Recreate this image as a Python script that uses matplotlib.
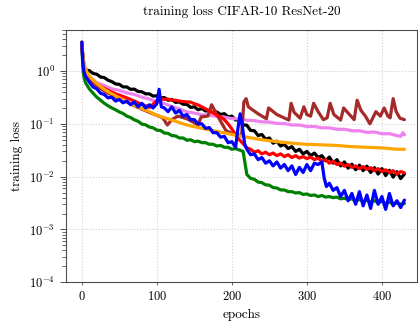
import matplotlib
matplotlib.use("Agg")
import matplotlib.pyplot as plt
from matplotlib.ticker import LogLocator, NullFormatter

plt.rcParams['font.family'] = 'serif'
plt.rcParams['font.serif'] = ['cmr10', 'DejaVu Serif']
plt.rcParams['mathtext.fontset'] = 'cm'
plt.rcParams['axes.formatter.use_mathtext'] = True

# ---------------- data ----------------
grid5 = [0, 1, 2, 3] + list(range(5, 431, 5))

black_loss = [3.5, 2.3, 1.6, 1.25, 1.05, 1.02, 0.9, 0.87, 0.77, 0.75,
              0.67, 0.63, 0.57, 0.56, 0.5, 0.5, 0.45, 0.455, 0.41, 0.405,
              0.37, 0.37, 0.335, 0.34, 0.31, 0.315, 0.28, 0.29, 0.255, 0.26,
              0.235, 0.235, 0.205, 0.21, 0.185, 0.195, 0.175, 0.18, 0.16, 0.168,
              0.15, 0.156, 0.135, 0.14, 0.118, 0.12, 0.096, 0.094, 0.075, 0.074,
              0.06, 0.063, 0.051, 0.054, 0.043, 0.047, 0.038, 0.041, 0.034, 0.037,
              0.03, 0.033, 0.027, 0.03, 0.025, 0.028, 0.023, 0.025, 0.02, 0.0235,
              0.018, 0.021, 0.016, 0.019, 0.0145, 0.0172, 0.0135, 0.0165, 0.013, 0.0158,
              0.012, 0.0148, 0.0112, 0.0142, 0.0105, 0.0132, 0.0098, 0.0124, 0.0092, 0.0112]

red_loss = [3.5, 2.0, 1.4, 1.15, 0.95, 0.78, 0.66, 0.57, 0.51, 0.47,
            0.43, 0.4, 0.37, 0.35, 0.33, 0.31, 0.29, 0.27, 0.25, 0.235,
            0.22, 0.205, 0.235, 0.275, 0.3, 0.29, 0.295, 0.28, 0.28, 0.27,
            0.265, 0.26, 0.258, 0.24, 0.228, 0.21, 0.192, 0.175, 0.162, 0.145,
            0.135, 0.12, 0.1, 0.08, 0.062, 0.05, 0.042, 0.035, 0.033, 0.029,
            0.031, 0.027, 0.029, 0.026, 0.028, 0.025, 0.027, 0.024, 0.026, 0.023,
            0.025, 0.0225, 0.024, 0.022, 0.0235, 0.021, 0.0225, 0.0195, 0.021, 0.018,
            0.0195, 0.017, 0.018, 0.0158, 0.017, 0.015, 0.016, 0.0142, 0.0155, 0.0138,
            0.0148, 0.013, 0.0142, 0.0125, 0.0135, 0.012, 0.013, 0.0112, 0.0125, 0.0118]

green_loss = [3.5, 1.5, 0.95, 0.75, 0.6, 0.46, 0.38, 0.32, 0.28, 0.245,
              0.22, 0.2, 0.185, 0.168, 0.157, 0.14, 0.132, 0.119, 0.112, 0.099,
              0.096, 0.087, 0.084, 0.076, 0.075, 0.067, 0.066, 0.06, 0.059, 0.054,
              0.054, 0.049, 0.05, 0.046, 0.047, 0.044, 0.044, 0.041, 0.041, 0.038,
              0.039, 0.036, 0.036, 0.033, 0.034, 0.032, 0.03,
              0.011, 0.0093, 0.0089, 0.0079, 0.0077, 0.007, 0.0069, 0.0062, 0.0061, 0.0056,
              0.0056, 0.0052, 0.0052, 0.0049, 0.005, 0.0046, 0.0047, 0.0044, 0.0045, 0.0042,
              0.0044, 0.0041, 0.0042, 0.004, 0.0041, 0.0038, 0.0039, 0.0037, 0.0038, 0.0035,
              0.0037, 0.0034, 0.0036, 0.0033, 0.0035, 0.0032, 0.0034, 0.0031, 0.0033, 0.003,
              0.0032, 0.003, 0.0031]

blue_epochs = [0, 1, 2, 3, 5, 10, 15, 20, 25, 30,
               35, 40, 45, 50, 55, 60, 65, 70, 75, 80,
               85, 90, 95, 100, 103, 106, 110, 115, 120, 125,
               130, 135, 140, 145, 150, 155, 160, 165, 170, 175,
               180, 185, 190, 195, 200, 205, 208, 211, 214, 217,
               220, 225, 230, 235, 240, 245, 250, 255, 260, 265,
               270, 275, 280, 285, 290, 295, 300, 305, 310, 315,
               320, 323, 326, 330, 335, 340, 345, 350, 355, 360,
               365, 370, 375, 380, 385, 390, 395, 400, 405, 410,
               415, 420, 425, 430]
blue_loss = [3.5, 1.8, 1.2, 0.95, 0.8, 0.62, 0.5, 0.46, 0.38, 0.36,
             0.31, 0.32, 0.27, 0.29, 0.25, 0.27, 0.23, 0.26, 0.21, 0.245,
             0.2, 0.23, 0.2, 0.24, 0.45, 0.21, 0.2, 0.17, 0.21, 0.16,
             0.18, 0.14, 0.15, 0.12, 0.12, 0.1, 0.1, 0.082, 0.085, 0.068,
             0.068, 0.056, 0.058, 0.044, 0.046, 0.036, 0.08, 0.155, 0.09, 0.042,
             0.033, 0.026, 0.027, 0.021, 0.023, 0.018, 0.02, 0.016, 0.019, 0.0145,
             0.017, 0.013, 0.016, 0.011, 0.015, 0.012, 0.017, 0.013, 0.018, 0.017,
             0.019, 0.0095, 0.0065, 0.0075, 0.0055, 0.0062, 0.0042, 0.0055, 0.0035, 0.0048,
             0.003, 0.0052, 0.0028, 0.0045, 0.0025, 0.0055, 0.003, 0.0042, 0.0024, 0.0048,
             0.0028, 0.0035, 0.0026, 0.0036]

violet_epochs = [0, 1, 2, 3, 5, 10, 15, 20] + list(range(30, 421, 10)) + [425, 428, 430]
violet_loss = [3.5, 2.0, 1.4, 1.1, 0.95, 0.8, 0.68, 0.6, 0.53, 0.46,
               0.43, 0.385, 0.36, 0.32, 0.295, 0.262, 0.243, 0.212, 0.192, 0.168,
               0.16, 0.148, 0.146, 0.138, 0.134, 0.126, 0.124, 0.117, 0.115, 0.109,
               0.108, 0.102, 0.101, 0.095, 0.095, 0.089, 0.089, 0.084, 0.084, 0.079,
               0.079, 0.074, 0.074, 0.069, 0.07, 0.065, 0.065, 0.06, 0.058, 0.068, 0.062]

orange_epochs = [0, 1, 2, 3, 5, 8, 12, 20, 30, 40, 50, 60, 70, 80, 90, 100,
                 120, 140, 160, 180, 200, 220, 240, 260, 280, 300, 320, 340,
                 360, 380, 400, 420, 430]
orange_loss = [3.5, 2.2, 1.7, 1.4, 1.12, 0.88, 0.74, 0.58, 0.45, 0.37, 0.31,
               0.26, 0.225, 0.195, 0.17, 0.145, 0.118, 0.095, 0.082, 0.072,
               0.063, 0.056, 0.05, 0.046, 0.043, 0.041, 0.040, 0.039, 0.037,
               0.036, 0.035, 0.033, 0.033]

brown_epochs = [0, 2, 5, 10, 20, 30, 40, 50, 60, 70,
                80, 90, 100, 108, 114, 120, 128, 140, 150, 155,
                159, 168, 173, 180, 192, 200, 208, 213, 216, 219,
                222, 235, 246, 249, 260, 276, 279, 283, 291, 296,
                300, 305, 309, 315, 322, 327, 331, 336, 345, 349,
                355, 363, 367, 372, 378, 384, 392, 398, 403, 408,
                411, 415, 419, 424, 430]
brown_loss = [3.5, 1.3, 0.95, 0.72, 0.52, 0.42, 0.35, 0.3, 0.26, 0.22,
              0.19, 0.165, 0.145, 0.13, 0.095, 0.12, 0.14, 0.125, 0.105, 0.095,
              0.135, 0.14, 0.23, 0.15, 0.075, 0.066, 0.062, 0.06, 0.26, 0.3,
              0.21, 0.155, 0.125, 0.2, 0.15, 0.118, 0.245, 0.165, 0.128, 0.21,
              0.15, 0.14, 0.245, 0.17, 0.12, 0.13, 0.245, 0.15, 0.118, 0.2,
              0.16, 0.12, 0.28, 0.18, 0.14, 0.1, 0.17, 0.14, 0.2, 0.14,
              0.13, 0.3, 0.17, 0.128, 0.12]

x_ticks = [0, 100, 200, 300, 400]

# ---------------- plot ----------------
fig = plt.figure(figsize=(4.18, 3.29), dpi=100)
ax = fig.add_axes([0.158, 0.142, 0.84, 0.767])

lw = 2.3
kw = dict(lw=lw, solid_joinstyle='round', solid_capstyle='round')
ax.plot(grid5, black_loss, color='black', **kw)
ax.plot(violet_epochs, violet_loss, color='#EE82EE', **kw)
ax.plot(brown_epochs, brown_loss, color='#A52A2A', **kw)
ax.plot(grid5, green_loss, color='#008000', **kw)
ax.plot(grid5, red_loss, color='#FF0000', **kw)
ax.plot(orange_epochs, orange_loss, color='#FFA500', **kw)
ax.plot(blue_epochs, blue_loss, color='#0000FF', **kw)

ax.set_yscale('log')
ax.set_ylim(1e-4, 6)
ax.set_xlim(-21, 447)
ax.set_xticks(x_ticks)
ax.yaxis.set_major_locator(LogLocator(base=10, numticks=10))
ax.yaxis.set_minor_locator(LogLocator(base=10, subs=range(2, 10), numticks=20))
ax.yaxis.set_minor_formatter(NullFormatter())

ax.grid(True, which='major', linestyle=':', color='0.82', lw=0.8)
for s in ax.spines.values():
    s.set_color('0.3')
    s.set_linewidth(0.8)
ax.tick_params(axis='y', which='major', direction='out', length=4.5, width=0.7,
               color='0.3', labelsize=9)
ax.tick_params(axis='y', which='minor', direction='out', length=2.8, width=0.6,
               color='0.3')
ax.tick_params(axis='x', which='major', direction='out', length=2, width=0.6,
               color='0.3', labelsize=9)

ax.set_title('training loss CIFAR-10 ResNet-20', fontsize=9.5, pad=11)
ax.set_xlabel('epochs', fontsize=9.5, labelpad=4)
ax.set_ylabel('training loss', fontsize=9.5, labelpad=4)

fig.savefig('out.png', dpi=100)
